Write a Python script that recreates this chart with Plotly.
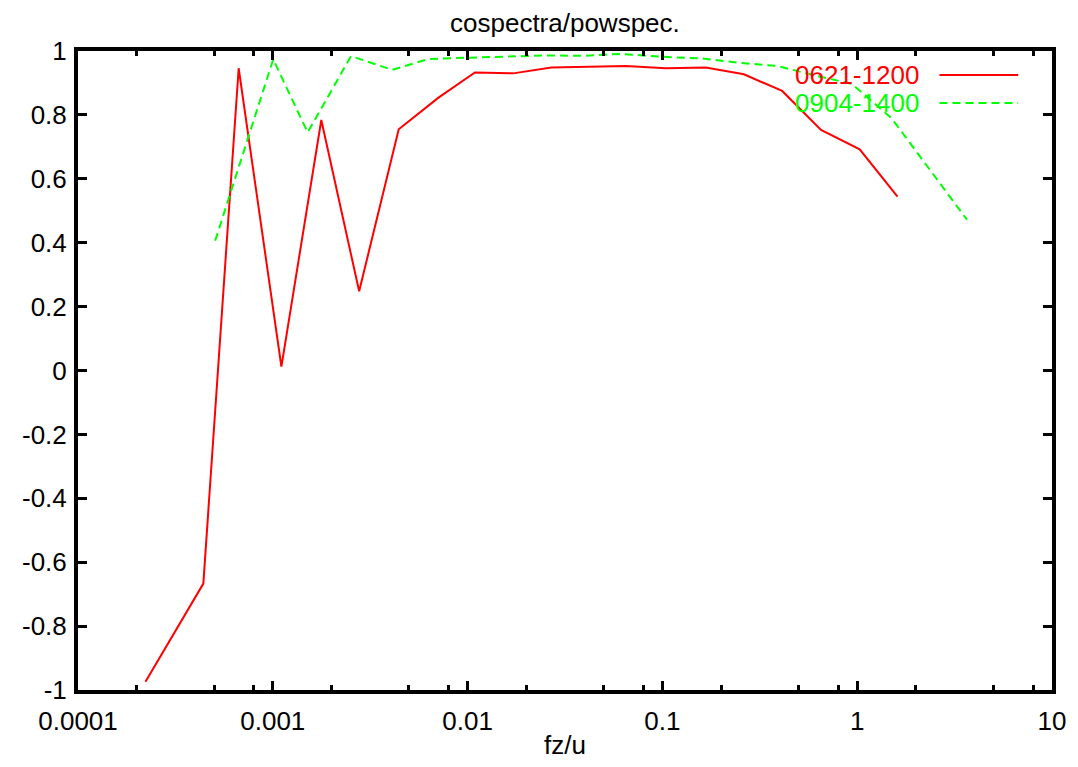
import plotly.graph_objects as go

# Normalised co-spectrum (cospectra / power spectrum) vs. fz/u for two runs
freq_0621 = [2.22e-4, 4.40e-4, 6.68e-4, 1.107e-3, 1.774e-3, 2.775e-3, 4.43e-3,
             7.09e-3, 1.09e-2, 1.715e-2, 2.69e-2, 4.15e-2, 6.51e-2, 0.104,
             0.167, 0.262, 0.412, 0.652, 1.03, 1.61]
coh_0621 = [-0.974, -0.667, 0.946, 0.012, 0.784, 0.248, 0.755, 0.854, 0.933,
            0.930, 0.948, 0.951, 0.953, 0.946, 0.948, 0.927, 0.875, 0.753,
            0.692, 0.544]

freq_0904 = [5.06e-4, 1.005e-3, 1.51e-3, 2.52e-3, 4.10e-3, 6.3e-3, 9.9e-3,
             1.57e-2, 2.46e-2, 3.9e-2, 6.14e-2, 9.8e-2, 0.157, 0.25, 0.39,
             0.62, 0.94, 1.5, 2.35, 3.66]
coh_0904 = [0.406, 0.974, 0.745, 0.984, 0.941, 0.975, 0.979, 0.983, 0.986,
            0.985, 0.991, 0.982, 0.977, 0.963, 0.953, 0.922, 0.897, 0.79,
            0.63, 0.472]

series_names = ["0621-1200", "0904-1400"]

x_tickvals = [1e-4, 1e-3, 1e-2, 1e-1, 1, 10]
x_ticktext = ["0.0001", "0.001", "0.01", "0.1", "1", "10"]
x_minorvals = [m * 10.0 ** e for e in range(-4, 1) for m in (2, 5, 8)]
y_tickvals = [-1, -0.8, -0.6, -0.4, -0.2, 0, 0.2, 0.4, 0.6, 0.8, 1]
y_ticktext = ["-1", "-0.8", "-0.6", "-0.4", "-0.2", "0", "0.2", "0.4", "0.6", "0.8", "1"]

RED = "#ff0000"
GREEN = "#00ff00"
FONT = "Liberation Sans, Arial, sans-serif"
FS = 26

fig = go.Figure()
fig.add_trace(go.Scatter(x=freq_0621, y=coh_0621, mode="lines", name=series_names[0],
                         line=dict(color=RED, width=2), showlegend=False))
fig.add_trace(go.Scatter(x=freq_0904, y=coh_0904, mode="lines", name=series_names[1],
                         line=dict(color=GREEN, width=2, dash="8px,5px"), showlegend=False))

W, H = 1078, 767
L, R, T, B = 78, 22, 51, 77
pw, ph = W - L - R, H - T - B


def px_x(p):
    return (p - L) / pw


def px_y(p):
    return (H - B - p) / ph


axis_common = dict(showline=True, linecolor="black", linewidth=4, mirror="allticks",
                   ticks="inside", ticklen=9, tickwidth=3, tickcolor="black",
                   showgrid=False, zeroline=False,
                   tickfont=dict(family=FONT, size=FS, color="black"))

fig.update_xaxes(type="log", range=[-4, 1], tickmode="array",
                 tickvals=x_tickvals, ticktext=x_ticktext, ticklabelstandoff=5,
                 minor=dict(tickmode="array", tickvals=x_minorvals, ticks="inside",
                            ticklen=5, tickwidth=3, tickcolor="black", showgrid=False),
                 **axis_common)
fig.update_yaxes(range=[-1, 1], tickmode="array", tickvals=y_tickvals, ticktext=y_ticktext,
                 ticklabelstandoff=2, **axis_common)

annotations = [
    dict(text="cospectra/powspec.", x=0.5, y=px_y(23), xref="paper", yref="paper",
         showarrow=False, xanchor="center", yanchor="middle",
         font=dict(family=FONT, size=FS, color="black")),
    dict(text="fz/u", x=0.5, y=px_y(745), xref="paper", yref="paper",
         showarrow=False, xanchor="center", yanchor="middle",
         font=dict(family=FONT, size=FS, color="black")),
]
legend_rows = [(series_names[0], RED, 75, "solid"), (series_names[1], GREEN, 103, "8px,5px")]
shapes = []
for name, col, yp, dash in legend_rows:
    annotations.append(dict(text=name, x=px_x(924), y=px_y(yp), xref="paper", yref="paper",
                            showarrow=False, xanchor="right", yanchor="middle",
                            font=dict(family=FONT, size=FS, color=col)))
    shapes.append(dict(type="line", xref="paper", yref="paper",
                       x0=px_x(943), x1=px_x(1022), y0=px_y(yp), y1=px_y(yp),
                       line=dict(color=col, width=2, dash=dash)))

fig.update_layout(width=W, height=H, margin=dict(l=L, r=R, t=T, b=B),
                  paper_bgcolor="white", plot_bgcolor="white",
                  annotations=annotations, shapes=shapes, showlegend=False)

fig.write_html("out.html")
